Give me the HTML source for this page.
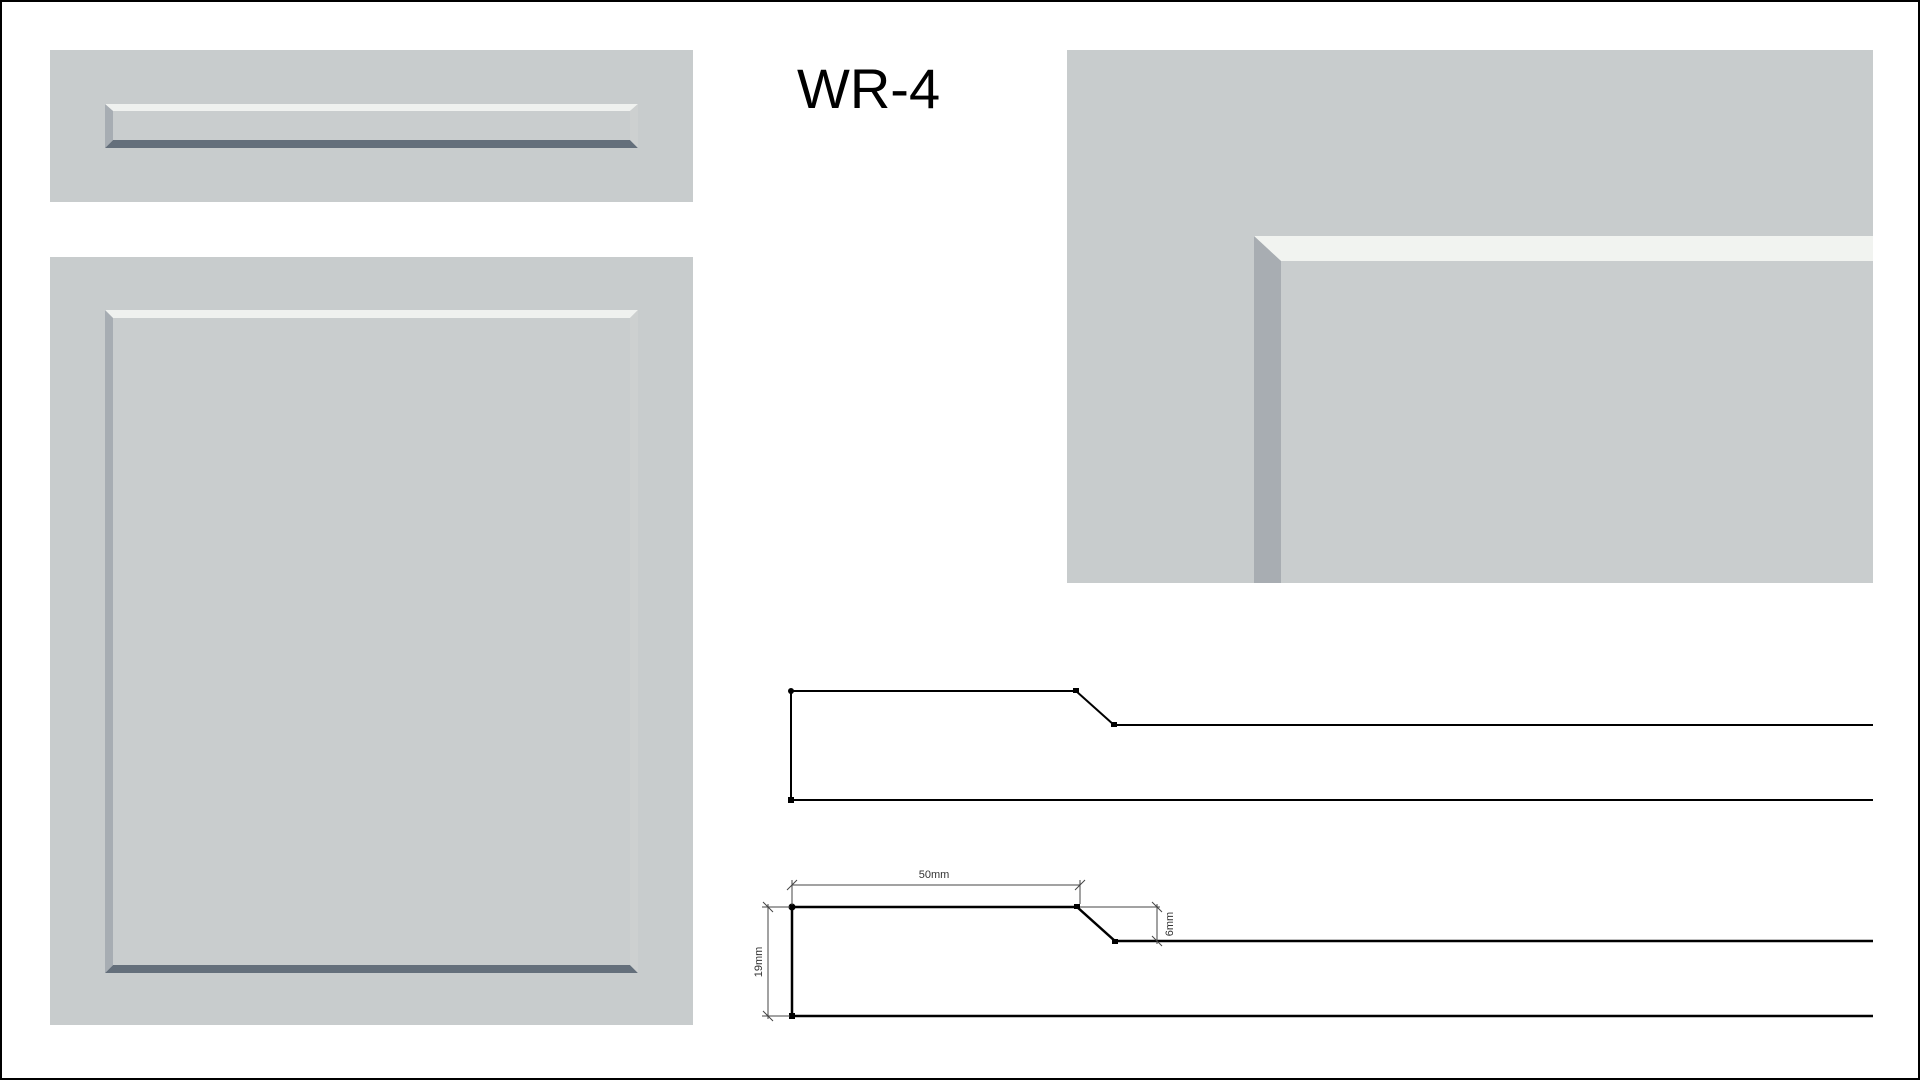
<!DOCTYPE html>
<html><head><style>
html,body{margin:0;padding:0;background:#fff;}
svg{display:block;}
</style></head><body>
<svg width="1920" height="1080" viewBox="0 0 1920 1080" xmlns="http://www.w3.org/2000/svg">
<rect x="1" y="1" width="1918" height="1078" fill="#fff" stroke="#000" stroke-width="2"/>
<!-- top-left panel -->
<rect x="50" y="50" width="643" height="152" fill="#c8cccd"/>
<rect x="105" y="104" width="533" height="44" fill="#c9cdce"/>
<polygon points="105,104 638,104 630,111 113,111" fill="#eff1ef"/>
<polygon points="105,148 638,148 630,140 113,140" fill="#646f7b"/>
<polygon points="105,104 113,111 113,140 105,148" fill="#a7adb3"/>
<polygon points="638,104 630,111 630,140 638,148" fill="#cdd0d0"/>
<!-- big panel -->
<rect x="50" y="257" width="643" height="768" fill="#c8cccd"/>
<rect x="105" y="310" width="533" height="663" fill="#c9cdce"/>
<polygon points="105,310 638,310 630,318 113,318" fill="#eff1ef"/>
<polygon points="105,973 638,973 630,965 113,965" fill="#646f7b"/>
<polygon points="105,310 113,318 113,965 105,973" fill="#a7adb3"/>
<polygon points="638,310 630,318 630,965 638,973" fill="#cdd0d0"/>
<!-- title -->
<text x="797" y="108" font-family="Liberation Sans, sans-serif" font-size="56" fill="#000">WR-4</text>
<!-- zoom panel -->
<rect x="1067" y="50" width="806" height="533" fill="#c8cccd"/>
<rect x="1254" y="236" width="619" height="347" fill="#c9cdce"/>
<polygon points="1254,236 1873,236 1873,261 1281,261" fill="#f1f3f0"/>
<polygon points="1254,236 1281,261 1281,583 1254,583" fill="#a8adb2"/>
<!-- profile 1 -->
<g stroke="#000" stroke-width="2" fill="none">
<polyline points="1873,725 1114,725 1076,691 791,691 791,800 1873,800"/>
</g>
<g fill="#000">
<circle cx="791" cy="691" r="3"/><rect x="788" y="797" width="6" height="6"/>
<rect x="1073" y="688" width="6" height="5"/><rect x="1111" y="722" width="6" height="5"/>
</g>
<!-- profile 2 -->
<g stroke="#000" stroke-width="2.5" fill="none">
<polyline points="1873,941 1115,941 1077,907 792,907 792,1016 1873,1016"/>
</g>
<g fill="#000">
<circle cx="792" cy="907" r="3.5"/><rect x="789" y="1013" width="6" height="6"/>
<rect x="1074" y="904" width="6" height="5"/><rect x="1112" y="939" width="6" height="5"/>
</g>
<g stroke="#444" stroke-width="1" fill="none">
<line x1="792" y1="885" x2="1080" y2="885"/>
<line x1="792" y1="880" x2="792" y2="905"/>
<line x1="1080" y1="880" x2="1080" y2="904"/>
<line x1="787" y1="890" x2="797" y2="880"/><line x1="1075" y1="890" x2="1085" y2="880"/>
<line x1="762" y1="907" x2="790" y2="907"/><line x1="762" y1="1016" x2="790" y2="1016"/>
<line x1="768" y1="904" x2="768" y2="1019"/>
<line x1="763" y1="902" x2="773" y2="912"/><line x1="763" y1="1011" x2="773" y2="1021"/>
<line x1="1080" y1="907" x2="1160" y2="907"/>
<line x1="1157" y1="904" x2="1157" y2="944"/>
<line x1="1152" y1="902" x2="1162" y2="912"/><line x1="1152" y1="936" x2="1162" y2="946"/>
</g>
<text x="934" y="878" text-anchor="middle" font-family="Liberation Sans, sans-serif" font-size="11" fill="#333">50mm</text>
<text transform="translate(762,962) rotate(-90)" text-anchor="middle" font-family="Liberation Sans, sans-serif" font-size="11" fill="#333">19mm</text>
<text transform="translate(1173,924) rotate(-90)" text-anchor="middle" font-family="Liberation Sans, sans-serif" font-size="11" fill="#333">6mm</text>
</svg>
</body></html>
